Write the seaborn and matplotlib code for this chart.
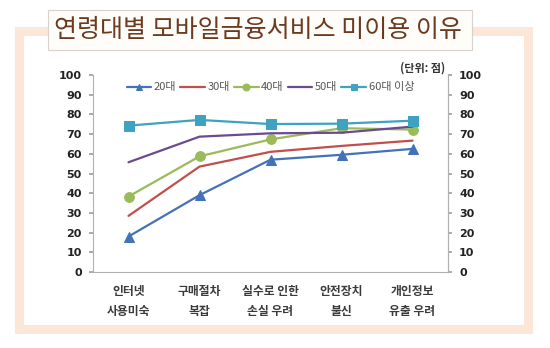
import matplotlib
matplotlib.use("Agg")
import matplotlib.pyplot as plt
import matplotlib.patches as mpatches
import seaborn as sns
import pandas as pd
import numpy as np

categories = ["인터넷\n사용미숙", "구매절차\n복잡", "실수로 인한\n손실 우려", "안전장치\n불신", "개인정보\n유출 우려"]
series_names = ["20대", "30대", "40대", "50대", "60대 이상"]
v20 = [18, 39, 57, 59.5, 62.5]
v30 = [28.5, 53.5, 61, 64, 66.7]
v40 = [38.3, 58.7, 67.3, 73, 72.3]
v50 = [55.7, 68.7, 70.4, 70.7, 73.8]
v60 = [74.3, 77.2, 75.1, 75.3, 76.8]
yticks = list(range(0, 101, 10))

values = [v20, v30, v40, v50, v60]
colors = ["#4372B8", "#C0504D", "#9BBB59", "#6A4B8E", "#3FA2C0"]
markers = ["^", None, "o", None, "s"]
msizes = [6.5, 0, 7, 0, 7]

sns.set_theme(style="white")
plt.rcParams["font.family"] = ["Noto Sans CJK KR", "DejaVu Sans"]

fig = plt.figure(figsize=(5.5, 3.48), dpi=100)
fig.patch.set_facecolor("white")

# peach frame
W, H = 550, 348
frame = mpatches.Rectangle((19 / W, 1 - 329 / H), (528 - 19) / W, (329 - 31) / H,
                           transform=fig.transFigure, fill=False,
                           edgecolor="#FBE6D8", linewidth=6.5, zorder=0)
fig.patches.append(frame)
# title box
tbox = mpatches.Rectangle((48 / W, 1 - 50 / H), (472 - 48) / W, (50 - 10) / H,
                          transform=fig.transFigure, facecolor="#FFFDFA",
                          edgecolor="#D9D2CC", linewidth=0.8, zorder=1)
fig.patches.append(tbox)
fig.text(258 / W, 1 - 30 / H, "연령대별 모바일금융서비스 미이용 이유",
         ha="center", va="center", fontsize=18, color="#6B3A1F", zorder=2)

ax = fig.add_axes([93 / W, 1 - 272 / H, (448 - 93) / W, (272 - 75) / H])
ax.set_facecolor("none")

rows = []
for name, vals in zip(series_names, values):
    for i, v in enumerate(vals):
        rows.append({"series": name, "x": i, "value": v})
df = pd.DataFrame(rows)

for name, col, mk, ms in zip(series_names, colors, markers, msizes):
    sub = df[df["series"] == name]
    sns.lineplot(data=sub, x="x", y="value", ax=ax, color=col, linewidth=1.6,
                 marker=mk if mk else None, markersize=ms,
                 markeredgecolor=col, markerfacecolor=col, label=name, zorder=3)

ax.set_xlim(-0.5, 4.5)
ax.set_ylim(0, 100)
ax.set_xlabel("")
ax.set_ylabel("")
ax.set_xticks(np.arange(-0.5, 5, 1))
ax.set_xticklabels([])
ax.set_xticks(range(len(categories)), minor=True)
ax.set_xticklabels(categories, minor=True, fontsize=8.5, fontweight="bold",
                   color="#3A3A3A", linespacing=1.75)
ax.tick_params(axis="x", which="major", direction="in", length=4, color="#A0A0A0")
ax.tick_params(axis="x", which="minor", length=0, pad=9)
ax.set_yticks(yticks)
ax.set_yticklabels([str(t) for t in yticks], fontsize=8, fontweight="bold",
                   family=["DejaVu Sans"], color="#222222")
ax.tick_params(axis="y", direction="out", length=3, color="#A0A0A0", pad=5, left=True)

for s in ["top"]:
    ax.spines[s].set_visible(False)
for s in ["left", "right", "bottom"]:
    ax.spines[s].set_color("#B0B0B0")
    ax.spines[s].set_linewidth(0.8)

ax2 = ax.twinx()
ax2.set_ylim(0, 100)
ax2.set_yticks(yticks)
ax2.set_yticklabels([str(t) for t in yticks], fontsize=8, fontweight="bold",
                    family=["DejaVu Sans"], color="#222222")
ax2.tick_params(axis="y", direction="out", length=3, color="#A0A0A0", pad=5, right=True)
ax2.grid(False)
for s in ["top", "left", "bottom"]:
    ax2.spines[s].set_visible(False)
ax2.spines["right"].set_color("#B0B0B0")
ax2.spines["right"].set_linewidth(0.8)

leg = ax.legend(loc="upper center", bbox_to_anchor=(0.5, 0.985), ncol=5, frameon=False,
                fontsize=8, handlelength=2.2, handletextpad=0.25, columnspacing=0.35,
                borderaxespad=0)
for t in leg.get_texts():
    t.set_color("#555555")
for h in leg.legend_handles:
    h.set_markersize(5)

fig.text(445 / W, 1 - 68 / H, "(단위: 점)", ha="right", va="center",
         fontsize=8, fontweight="bold", color="#333333")

fig.savefig("out.png", dpi=100, facecolor="white")
